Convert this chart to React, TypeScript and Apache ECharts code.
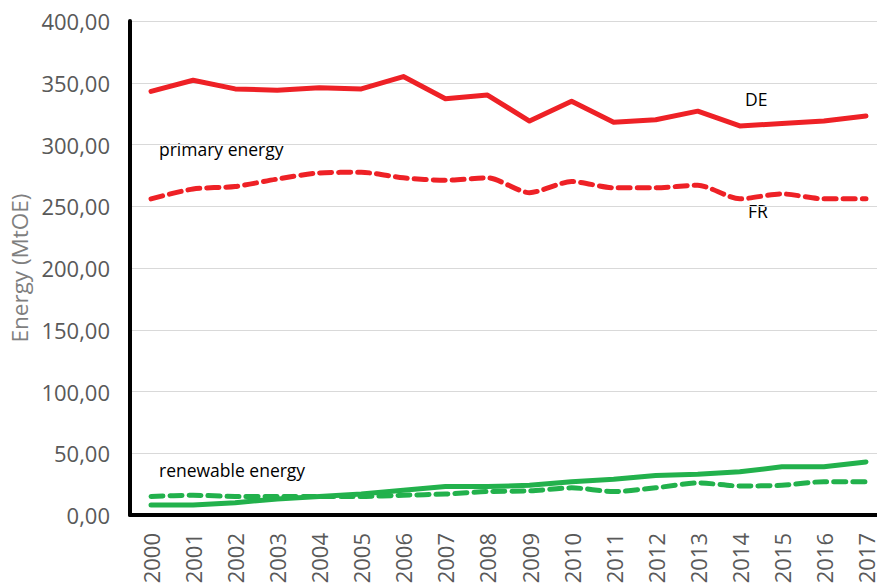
import React, { useEffect, useRef } from "react";
import * as echarts from "echarts";

const years = ["2000","2001","2002","2003","2004","2005","2006","2007","2008","2009","2010","2011","2012","2013","2014","2015","2016","2017"];
const dePrimary = [343, 352, 345, 344, 346, 345, 355, 337, 340, 319, 335, 318, 320, 327, 315, 317, 319, 323];
const frPrimary = [256, 264, 266, 272, 277, 277.5, 273, 271, 273, 261, 270, 265, 265, 267, 256, 260, 256, 256];
const deRenew = [8, 8, 10, 13, 15, 17, 20, 23, 23, 24, 27, 29, 32, 33, 35, 39, 39, 43];
const frRenew = [15, 16, 15, 15, 15, 15, 16, 17, 19, 19.5, 22, 19, 22, 26, 23.5, 24, 27, 27];

const RED = "#ee2126";
const GREEN = "#22b14c";
const FONT = "'Open Sans', 'Noto Sans', sans-serif";

export default function App() {
  const ref = useRef<HTMLDivElement>(null);
  useEffect(() => {
    if (!ref.current) return;
    const chart = echarts.init(ref.current, null, { renderer: "svg" });
    const lineSeries = (name: string, data: number[], color: string, dashed: boolean) => ({
      name,
      type: "line",
      data,
      symbol: "none",
      smooth: dashed ? 0.25 : false,
      lineStyle: {
        color,
        width: 5,
        type: dashed ? [12, 7] : "solid",
        cap: "round",
        join: "round",
      },
    });
    chart.setOption({
      animation: false,
      textStyle: { fontFamily: FONT },
      grid: { left: 130, right: -10, top: 21, bottom: 68, containLabel: false, outerBoundsMode: "none" },
      xAxis: {
        type: "category",
        data: years,
        boundaryGap: true,
        axisLine: { lineStyle: { color: "#000", width: 4 } },
        axisTick: { show: false },
        axisLabel: {
          rotate: 90,
          color: "#595959",
          fontSize: 22,
          fontFamily: FONT,
          margin: 18,
          interval: 0,
        },
      },
      yAxis: {
        type: "value",
        min: 0,
        max: 400,
        interval: 50,
        name: "Energy (MtOE)",
        nameLocation: "middle",
        nameGap: 97,
        nameTextStyle: { color: "#7f7f7f", fontSize: 22.5, fontFamily: FONT },
        axisLine: { show: true, lineStyle: { color: "#000", width: 4 } },
        axisTick: { show: false },
        splitLine: { lineStyle: { color: "#d9d9d9", width: 1 } },
        axisLabel: {
          color: "#595959",
          fontSize: 22,
          fontFamily: FONT,
          margin: 20,
          formatter: (v: number) => v.toFixed(2).replace(".", ","),
        },
      },
      series: [
        lineSeries("DE primary", dePrimary, RED, false),
        lineSeries("FR primary", frPrimary, RED, true),
        lineSeries("DE renewable", deRenew, GREEN, false),
        lineSeries("FR renewable", frRenew, GREEN, true),
      ],
      graphic: [
        { type: "text", left: 159, top: 140, style: { text: "primary energy", fill: "#000", fontSize: 17.5, fontFamily: FONT } },
        { type: "text", left: 745, top: 90, style: { text: "DE", fill: "#000", fontSize: 17.5, fontFamily: FONT } },
        { type: "text", left: 748, top: 202, style: { text: "FR", fill: "#000", fontSize: 17.5, fontFamily: FONT } },
        { type: "text", left: 159, top: 461, style: { text: "renewable energy", fill: "#000", fontSize: 17.5, fontFamily: FONT } },
      ],
    });
    return () => chart.dispose();
  }, []);
  return <div ref={ref} style={{ width: 877, height: 583, position: "absolute", left: 0, top: 0, background: "#fff" }} />;
}
